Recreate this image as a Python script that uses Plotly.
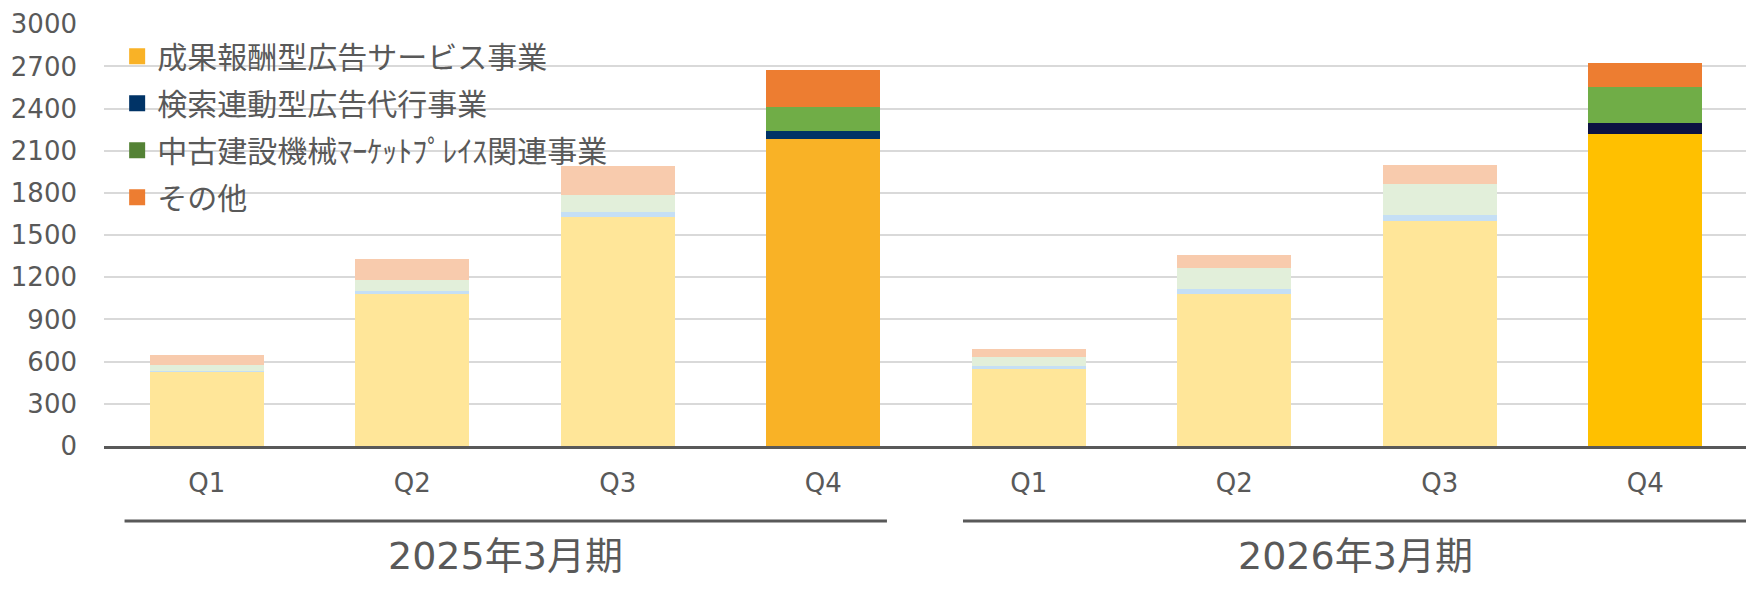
import plotly.graph_objects as go

# quarterly revenue by segment
periods = ["2025年3月期"] * 4 + ["2026年3月期"] * 4
quarters = ["Q1", "Q2", "Q3", "Q4", "Q1", "Q2", "Q3", "Q4"]

ad_service = [527, 1083, 1631, 2187, 548, 1083, 1598, 2222]
search_ad = [10, 21, 35, 56, 24, 37, 47, 77]
machinery = [40, 77, 120, 169, 61, 146, 218, 258]
other = [70, 148, 204, 260, 56, 93, 134, 171]

series_names = [
    "成果報酬型広告サービス事業",
    "検索連動型広告代行事業",
    "中古建設機械ﾏｰｹｯﾄﾌﾟﾚｲｽ関連事業",
    "その他",
]

TEXT = "#595959"
FONT = "DejaVu Sans, Noto Sans CJK JP, sans-serif"
JP_FONT = "Noto Sans CJK JP, sans-serif"

# highlighted (Q4) colours per period, faded colours for other quarters
HILITE = {
    "2025年3月期": ["#F9B226", "#003366", "#70AD47", "#ED7D31"],
    "2026年3月期": ["#FFC000", "#0C1242", "#70AD47", "#ED7D31"],
}
FADED = ["#FFE699", "#C5DFF5", "#E2EFDA", "#F8CBAD"]
LEGEND_COLORS = ["#F9B226", "#003366", "#548235", "#ED7D31"]

x_keys = [f"{p} {q}" for p, q in zip(periods, quarters)]

fig = go.Figure()
for i, vals in enumerate([ad_service, search_ad, machinery, other]):
    colors = [HILITE[p][i] if q == "Q4" else FADED[i] for p, q in zip(periods, quarters)]
    fig.add_trace(
        go.Bar(
            x=x_keys,
            y=vals,
            name=series_names[i],
            marker=dict(color=colors, line=dict(width=0)),
            showlegend=False,
        )
    )

# legend-only entries with the solid colours
for i, (name, c) in enumerate(zip(series_names, LEGEND_COLORS)):
    fig.add_trace(
        go.Scatter(
            x=[None], y=[None], mode="markers", name=name, legendgroup=f"g{i}",
            marker=dict(symbol="square", size=18, color=c),
        )
    )

# period group lines + labels under the quarter ticks
groups = [("2025年3月期", -0.4, 3.31), ("2026年3月期", 3.68, 7.5)]
for label, x0, x1 in groups:
    fig.add_shape(
        type="line", xref="x", yref="paper", x0=x0, x1=x1, y0=-0.178, y1=-0.178,
        line=dict(color=TEXT, width=3),
    )
    fig.add_annotation(
        x=(x0 + x1) / 2, y=-0.26, xref="x", yref="paper", text=label,
        showarrow=False, yanchor="middle",
        font=dict(family=FONT, size=38, color=TEXT),
    )

# page body has an 8px margin, so the figure is 8px smaller and margins shifted
fig.update_layout(
    barmode="stack",
    bargap=0.445,
    width=1746,
    height=582,
    margin=dict(l=96, r=6, t=16, b=144),
    plot_bgcolor="white",
    paper_bgcolor="white",
    font=dict(family=FONT, color=TEXT, size=26),
    legend=dict(
        x=0.008, y=0.985, xanchor="left", yanchor="top",
        font=dict(family=JP_FONT, size=30, color=TEXT),
        bgcolor="rgba(0,0,0,0)",
        traceorder="grouped",
        tracegroupgap=5,
    ),
    xaxis=dict(
        type="category",
        tickmode="array",
        tickvals=x_keys,
        ticktext=quarters,
        range=[-0.5, 7.5],
        automargin=False,
        showgrid=False,
        showline=True,
        linecolor=TEXT,
        linewidth=3,
        ticks="",
        ticklabelstandoff=12,
        tickfont=dict(size=26, color=TEXT),
    ),
    yaxis=dict(
        range=[0, 3002],
        tickvals=list(range(0, 3001, 300)),
        automargin=False,
        ticklabeloverflow="allow",
        showgrid=True,
        gridcolor="#D9D9D9",
        gridwidth=2,
        zeroline=False,
        ticks="",
        ticklabelstandoff=26,
        tickfont=dict(size=26, color=TEXT),
    ),
)

fig.write_html("out.html")
